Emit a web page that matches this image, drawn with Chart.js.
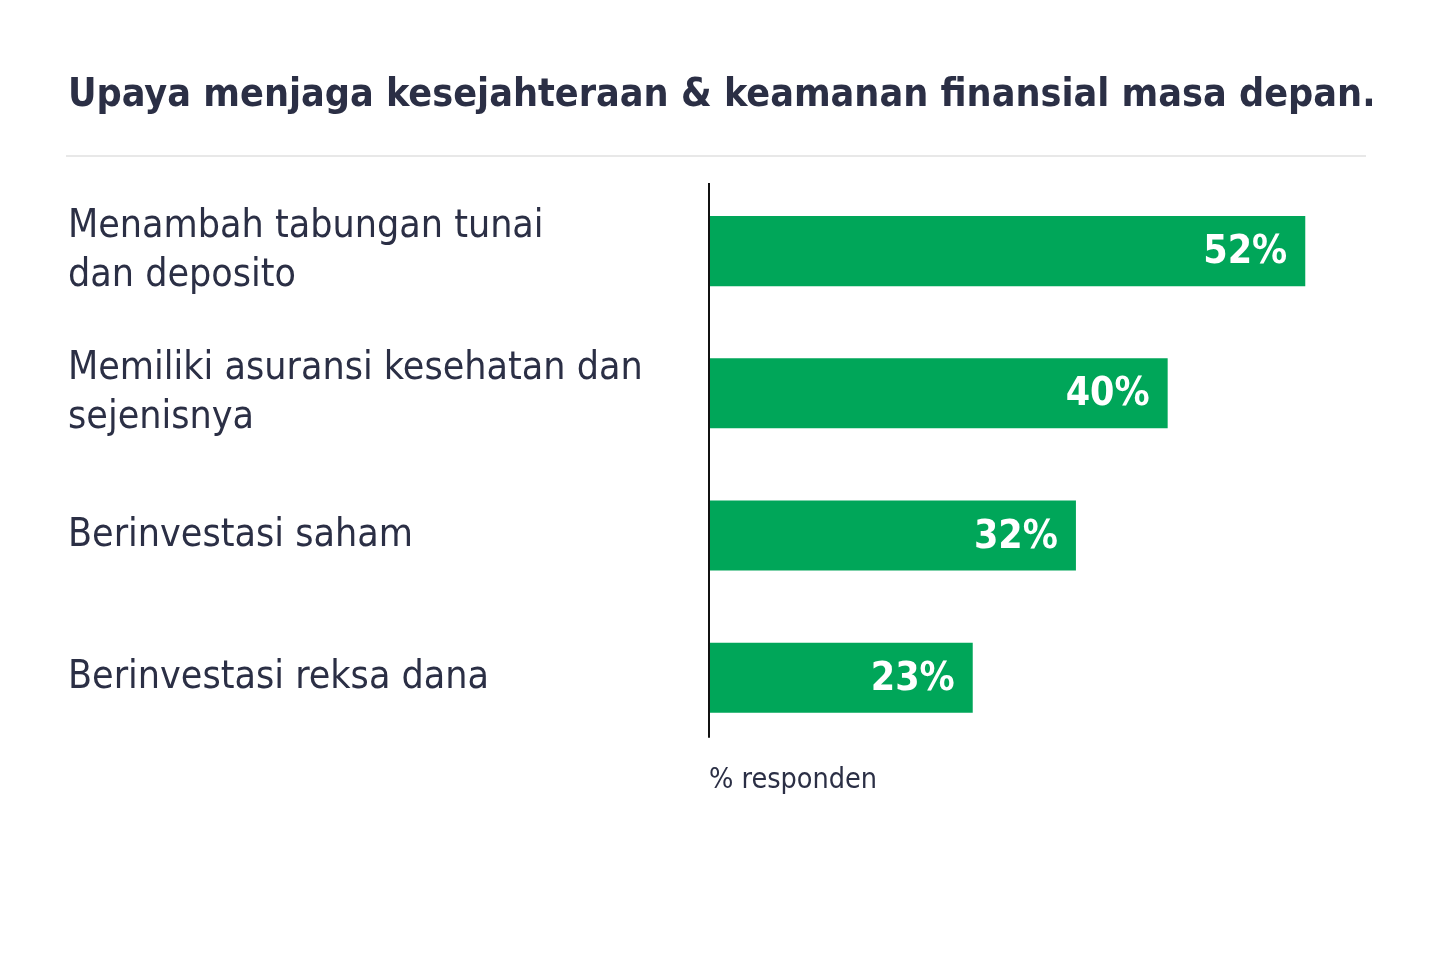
<!DOCTYPE html>
<html>
<head>
<meta charset="utf-8">
<script src="https://cdn.jsdelivr.net/npm/chart.js@4/dist/chart.umd.min.js"></script>
<style>
  html, body { margin: 0; padding: 0; background: #fff; }
  #wrap { width: 1440px; height: 960px; position: relative; }
</style>
</head>
<body>
<div id="wrap"><canvas id="myChart" width="1440" height="960"></canvas></div>
<script>
// data
var chartTitle = 'Upaya menjaga kesejahteraan & keamanan finansial masa depan.';
var categories = [
    ['Menambah tabungan tunai', 'dan deposito'],
    ['Memiliki asuransi kesehatan dan', 'sejenisnya'],
    ['Berinvestasi saham'],
    ['Berinvestasi reksa dana']
];
var values = [52, 40, 32, 23];
var axisTitle = '% responden';

var FONT = '"Liberation Sans Narrow", "DejaVu Sans Condensed", Roboto, sans-serif';
var TEXT = '#2b2f45';
var GREEN = '#00a659';

var ctx = document.getElementById('myChart').getContext('2d');

// pick a title size whose natural width is about 1308px
ctx.font = 'bold 44px ' + FONT;
var titleSize = Math.min(46, 44 * 1308 / ctx.measureText(chartTitle).width);
var titleTop = 72;

// grey rule under the title + black axis line
var decorations = {
    id: 'decorations',
    afterDraw: function(chart) {
        var c = chart.ctx;
        var area = chart.chartArea;
        c.save();
        c.strokeStyle = '#e8e8e8';
        c.lineWidth = 2;
        c.beginPath();
        c.moveTo(66, 156);
        c.lineTo(1366, 156);
        c.stroke();

        c.strokeStyle = '#111111';
        c.lineWidth = 2;
        c.beginPath();
        c.moveTo(area.left, area.top + 3);
        c.lineTo(area.left, area.bottom - 11);
        c.stroke();
        c.restore();
    }
};

// white value labels inside the bar ends
var valueLabels = {
    id: 'valueLabels',
    afterDatasetsDraw: function(chart) {
        var c = chart.ctx;
        var meta = chart.getDatasetMeta(0);
        c.save();
        c.fillStyle = '#ffffff';
        c.font = 'bold 39px ' + FONT;
        c.textAlign = 'right';
        c.textBaseline = 'middle';
        meta.data.forEach(function(bar, i) {
            c.fillText(values[i] + '%', bar.x - 18, bar.y + 2);
        });
        c.restore();
    }
};

var chart = new Chart(ctx, {
    type: 'bar',
    data: {
        labels: categories,
        datasets: [{
            data: values,
            backgroundColor: GREEN,
            borderWidth: 0,
            barPercentage: 1,
            categoryPercentage: 0.493
        }]
    },
    options: {
        indexAxis: 'y',
        responsive: false,
        animation: false,
        events: [],
        layout: {
            padding: { left: 68, right: 43, top: 0, bottom: 162 }
        },
        plugins: {
            legend: { display: false },
            tooltip: { enabled: false },
            title: {
                display: true,
                text: chartTitle,
                align: 'start',
                color: TEXT,
                font: { family: FONT, size: titleSize, weight: 'bold', lineHeight: 1.2 },
                padding: { top: titleTop, bottom: 180 - titleTop - titleSize * 1.2 }
            }
        },
        scales: {
            x: {
                min: 0,
                max: 60,
                grid: { display: false, drawTicks: false },
                border: { display: false },
                ticks: { display: false },
                title: {
                    display: true,
                    text: axisTitle,
                    align: 'start',
                    color: TEXT,
                    font: { family: FONT, size: 28.5, lineHeight: 1.2 },
                    padding: { top: 15, bottom: 0 }
                }
            },
            y: {
                grid: { display: false, drawTicks: false },
                border: { display: false },
                ticks: {
                    color: TEXT,
                    crossAlign: 'far',
                    padding: 0,
                    font: { family: FONT, size: 39, lineHeight: 1.25 }
                },
                afterFit: function(scale) {
                    scale.width = 641;
                }
            }
        }
    },
    plugins: [decorations, valueLabels]
});
</script>
</body>
</html>
